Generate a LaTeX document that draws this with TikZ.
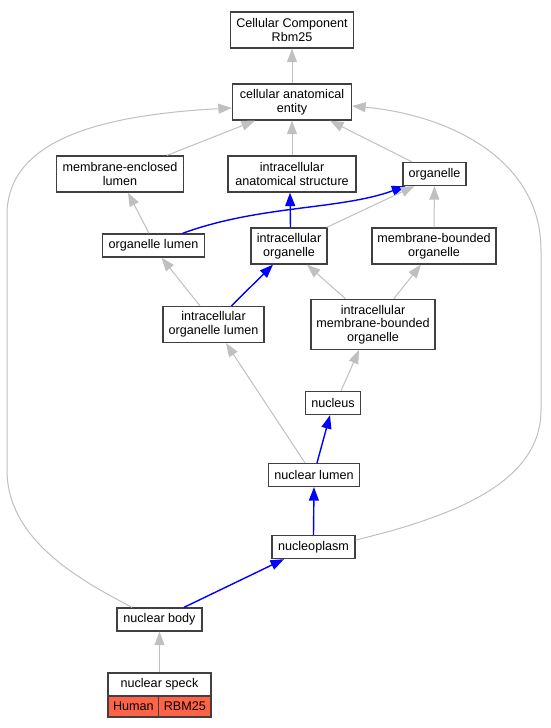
\documentclass[tikz,border=0pt]{standalone}
\usepackage{fontspec}
\setmainfont{Liberation Sans}
\usetikzlibrary{arrows.meta}
\definecolor{edgegray}{RGB}{192,192,192}
\definecolor{boxline}{RGB}{64,64,64}
\definecolor{tomatofill}{RGB}{255,99,71}
\begin{document}
\begin{tikzpicture}[x=1pt,y=-1pt,
  box/.style={draw=boxline, line width=1.3pt, fill=white, inner sep=0pt, align=center,
    font=\fontsize{12.6}{13.7}\selectfont},
  gedge/.style={draw=edgegray, line width=1pt, -{Triangle[length=13.5pt,width=10pt]}},
  bedge/.style={draw=blue, line width=1.4pt, -{Triangle[length=13.5pt,width=10pt]}}]
\useasboundingbox (0,0) rectangle (550,728);
\fill[white] (0,0) rectangle (550,728);

\node[box, minimum width=123pt, minimum height=36pt] (cc) at (292,30) {Cellular Component\\Rbm25};
\node[box, minimum width=119pt, minimum height=36pt] (cae) at (292,102) {cellular anatomical\\entity};
\node[box, minimum width=127pt, minimum height=36pt] (mel) at (120,174) {membrane-enclosed\\lumen};
\node[box, minimum width=128pt, minimum height=36pt] (ias) at (292,174) {intracellular\\anatomical structure};
\node[box, minimum width=63pt, minimum height=23pt] (org) at (434.5,174) {organelle};
\node[box, minimum width=102pt, minimum height=23pt] (ol) at (153.5,245.5) {organelle lumen};
\node[box, minimum width=76pt, minimum height=36pt] (io) at (289,246) {intracellular\\organelle};
\node[box, minimum width=124pt, minimum height=36pt] (mbo) at (434,246) {membrane-bounded\\organelle};
\node[box, minimum width=101pt, minimum height=36pt] (iol) at (213.5,324.5) {intracellular\\organelle lumen};
\node[box, minimum width=124pt, minimum height=50pt] (imbo) at (373,324.5) {intracellular\\membrane-bounded\\organelle};
\node[box, minimum width=55pt, minimum height=23pt] (nuc) at (333,403) {nucleus};
\node[box, minimum width=91pt, minimum height=23pt] (nl) at (314,475) {nuclear lumen};
\node[box, minimum width=83pt, minimum height=23pt] (np) at (313.5,547) {nucleoplasm};
\node[box, minimum width=85pt, minimum height=23pt] (nb) at (159.5,619.5) {nuclear body};
\node[box, minimum width=103pt, minimum height=23pt] (ns) at (159.5,684.5) {nuclear speck};
\node[box, fill=tomatofill, minimum width=50.7pt, minimum height=21pt] (nsh) at (133.35,706.5) {Human};
\node[box, fill=tomatofill, minimum width=52.3pt, minimum height=21pt] (nsr) at (184.85,706.5) {RBM25};

\draw[gedge] (cae.north) -- (cc.south);
\draw[gedge] ([xshift=47pt]mel.north) -- ([xshift=-37pt]cae.south);
\draw[gedge] (ias.north) -- (cae.south);
\draw[gedge] ([xshift=-22.5pt]org.north) -- ([xshift=38pt]cae.south);
\draw[gedge] ([xshift=-27.5pt]nb.north) .. controls (80,580) and (7,540) .. (7,470) -- (7,215)
  .. controls (7,140) and (100,115) .. ([yshift=-6pt]cae.west);
\draw[gedge] ([yshift=7pt]np.east) .. controls (460,515) and (541,480) .. (541,410) -- (541,250)
  .. controls (541,160) and (450,115) .. ([yshift=-4pt]cae.east);
\draw[gedge] ([xshift=-4.5pt]ol.north) -- ([xshift=8pt]mel.south);
\draw[bedge] ([xshift=29pt]ol.north) .. controls (260,205) and (340,210) .. ([xshift=3pt]org.south west);
\draw[gedge] ([xshift=-1pt]io.north east) -- ([xshift=12pt]org.south west);
\draw[bedge] ([xshift=1.5pt]io.north) -- ([xshift=-2pt]ias.south);
\draw[gedge] (mbo.north) -- (org.south);
\draw[gedge] ([xshift=-13.5pt]iol.north) -- ([xshift=8pt]ol.south);
\draw[bedge] ([xshift=18pt]iol.north) -- ([xshift=-16pt]io.south);
\draw[gedge] ([xshift=-27.4pt]imbo.north) -- ([xshift=18pt]io.south);
\draw[gedge] ([xshift=20.7pt]imbo.north) -- ([xshift=-13pt]mbo.south);
\draw[gedge] ([xshift=8pt]nuc.north) -- ([xshift=-14pt]imbo.south);
\draw[gedge] ([xshift=-9pt]nl.north) -- ([xshift=12.5pt]iol.south);
\draw[bedge] ([xshift=3pt]nl.north) -- ([xshift=-3pt]nuc.south);
\draw[bedge] (np.north) -- (nl.south);
\draw[bedge] ([xshift=24.5pt]nb.north) -- ([xshift=-29.5pt]np.south);
\draw[gedge] (ns.north) -- (nb.south);
\end{tikzpicture}
\end{document}
